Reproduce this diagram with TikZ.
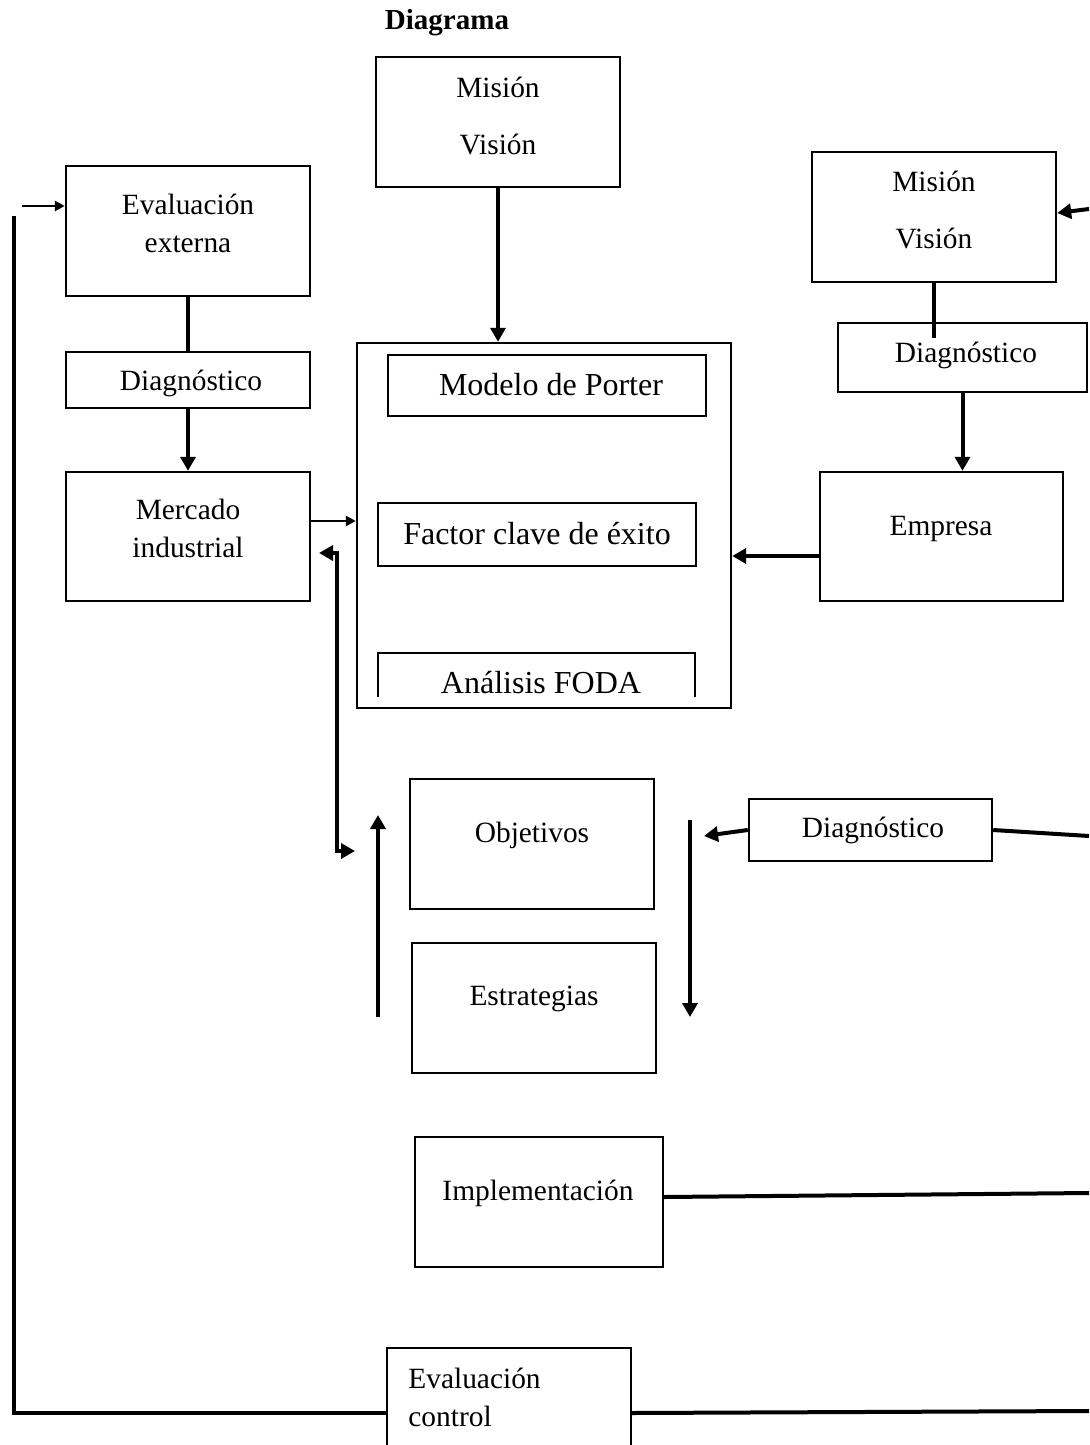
\documentclass[tikz,border=0pt]{standalone}
\usepackage{fontspec}
\setmainfont{Liberation Serif}
\usetikzlibrary{arrows.meta}

\tikzset{
  box/.style={draw, line width=1.2pt, minimum width=122pt, minimum height=65pt, inner sep=0pt},
  lbl/.style={font=\fontsize{14.7pt}{19pt}\selectfont, align=center, inner sep=0pt, yshift=-1pt},
  biglbl/.style={font=\fontsize{16pt}{19pt}\selectfont, inner sep=0pt},
  link/.style={line width=2pt},
  arr/.style={link, -{Triangle[length=7pt,width=7.5pt]}},
  tarr/.style={line width=1.4pt, -{Triangle[length=5pt,width=5pt]}},
  dbl/.style={link, {Triangle[length=7pt,width=7.5pt]}-{Triangle[length=7pt,width=7.5pt]}},
}

\begin{document}
\begin{tikzpicture}[x=0.5pt, y=-0.5pt]
    % 0. Page frame
    \useasboundingbox (0,0) rectangle (1089,1445);

    \node[font=\bfseries\fontsize{14.5pt}{17pt}\selectfont] (title) at (447,23) {Diagrama};

    % 1. Boxes
    % Left column
    \node[box] (EE) at (188,231) {};
    \node[box, minimum height=28pt] (D1) at (188,380) {};
    \node[box, minimum height=64.5pt] (MI) at (188,536.5) {};

    % Middle column
    \node[box] (MV1) at (498,122) {};
    \node[box, minimum width=187pt, minimum height=182.5pt] (BIG) at (544,525.5) {};
    \node[box, minimum width=159pt, minimum height=30.5pt] (MP) at (547,385.5) {};
    \node[box, minimum width=159pt, minimum height=31.5pt] (FC) at (537,534.5) {};
    \draw[line width=1.2pt] (378,697) |- (695,653) -- (695,697); % FODA, open at the bottom
    \node[box] (OB) at (532,844) {};
    \node[box] (ES) at (534,1008) {};
    \node[box, minimum width=124pt] (IM) at (539,1202) {};
    \node[box] (EC) at (509,1413) {};

    % Right column
    \node[box] (MV2) at (934,217) {};
    \node[box, minimum width=124.5pt, minimum height=34.5pt] (D2) at (962.5,357.5) {};
    \node[box, minimum width=121.5pt, minimum height=64.5pt] (EM) at (941.5,536.5) {};
    \node[box, minimum width=121.5pt, minimum height=31pt] (D3) at (870.5,830) {};

    % 2. Texts
    \node[lbl] (tMV1) at (498,114) {Misión\\[9.5pt]Visión};
    \node[lbl] (tMV2) at (934,208) {Misión\\[9.5pt]Visión};
    \node[lbl] (tEE) at (188,221) {Evaluación\\externa};
    \node[lbl] (tD1) at (191,381) {Diagnóstico};
    \node[lbl] (tMI) at (188,526) {Mercado\\industrial};
    \node[biglbl] (tMP) at (551,385) {Modelo de Porter};
    \node[biglbl] (tFC) at (537,534) {Factor clave de éxito};
    \node[biglbl] (tFODA) at (541,683) {Análisis FODA};
    \node[lbl] (tD2) at (966,353) {Diagnóstico};
    \node[lbl] (tEM) at (941,527) {Empresa};
    \node[lbl] (tOB) at (532,833) {Objetivos};
    \node[lbl] (tES) at (534,997) {Estrategias};
    \node[lbl] (tD3) at (873,828) {Diagnóstico};
    \node[lbl] (tIM) at (538,1191) {Implementación};
    \node[lbl, align=left, anchor=west] (tEC) at (408,1395) {Evaluación\\control};

    % 3. Free ends of the connectors
    \coordinate (FA) at (22,206);    % feedback arrow start
    \coordinate (FB) at (14,216);    % feedback line top
    \coordinate (LA) at (319,553);   % double arrow, upper tip
    \coordinate (LB) at (355,851);   % double arrow, lower tip
    \coordinate (UA) at (378,1017);
    \coordinate (UB) at (378,815);
    \coordinate (DA) at (690,820);
    \coordinate (DB) at (690,1017);
    \coordinate (D3tip) at (704,836);
    \coordinate (R1) at (1089,209);
    \coordinate (R2) at (1089,836);
    \coordinate (R3) at (1089,1193);
    \coordinate (R4) at (1089,1411);

    % 4. Connectors
    % left column
    \draw[tarr] (FA) -- (FA -| EE.west);
    \draw[link] (EE.south) -- (D1.north);
    \draw[arr] (D1.south) -- (MI.north);
    \path ([yshift=7.75pt]MI.east) coordinate (m1);
    \draw[tarr] (m1) -- (m1 -| BIG.west);
    \draw[dbl] (LA) -- ++(18,0) |- (LB);

    % middle column
    \draw[arr] (MV1.south) -- (MV1.south |- BIG.north);
    \draw[arr] (UA) -- (UB);
    \draw[arr] (DA) -- (DB);
    \draw[link] ([yshift=2.5pt]IM.east) -- (R3);
    \draw[link] (EC.east) -- (R4);
    \draw[link] (EC.west) -| (FB); % back up to the top

    % right column
    \draw[arr] (R1) -- ([yshift=2pt]MV2.east);
    \draw[link] (MV2.south) -- ++(0,55);
    \draw[arr] (D2.south) -- (D2.south |- EM.north);
    \path ([yshift=-9.75pt]EM.west) coordinate (e1);
    \draw[arr] (e1) -- (e1 -| BIG.east);
    \draw[arr] (D3.west) -- (D3tip);
    \draw[link] (D3.east) -- (R2);

\end{tikzpicture}
\end{document}
